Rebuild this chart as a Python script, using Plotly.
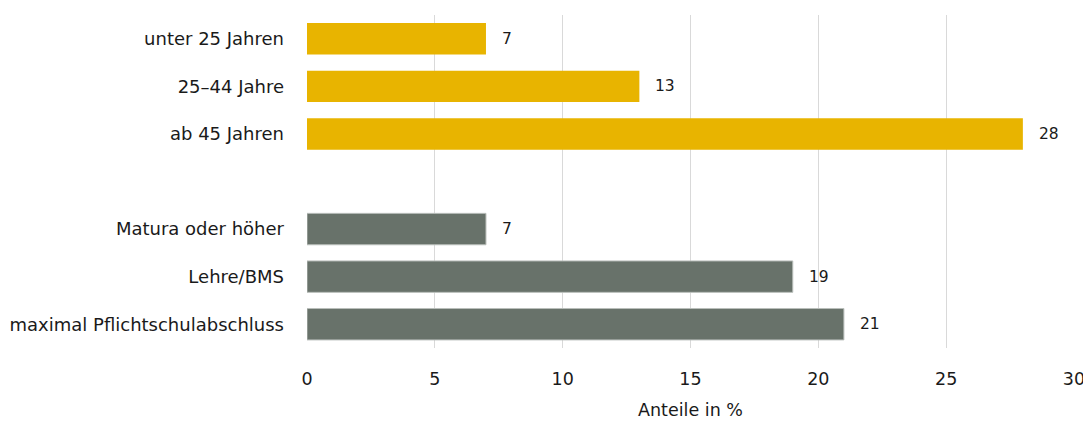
import plotly.graph_objects as go

# categories top to bottom, " " is the spacer row between the two groups
age_labels = ["unter 25 Jahren", "25–44 Jahre", "ab 45 Jahren"]
age_values = [7, 13, 28]
edu_labels = ["Matura oder höher", "Lehre/BMS", "maximal Pflichtschulabschluss"]
edu_values = [7, 19, 21]
spacer = [" "]
x_ticks = [0, 5, 10, 15, 20, 25, 30]

order = age_labels + spacer + edu_labels
font = "DejaVu Sans"

fig = go.Figure()
fig.add_trace(go.Bar(
    y=age_labels, x=age_values, orientation="h",
    marker=dict(color="#E8B400", line=dict(width=0)),
    width=0.66, hoverinfo="skip", showlegend=False
))
fig.add_trace(go.Bar(
    y=edu_labels, x=edu_values, orientation="h",
    marker=dict(color="#68726A", line=dict(width=1, color="#B9BEBA")),
    width=0.66, hoverinfo="skip", showlegend=False
))

# value labels right of each bar
for lab, val in zip(age_labels + edu_labels, age_values + edu_values):
    fig.add_annotation(x=val, y=lab, text=str(val), showarrow=False,
                       xanchor="left", xshift=14,
                       font=dict(family=font, size=15.5, color="#1a1a1a"))

# the page body has an 8px margin, so the figure is a bit smaller than the window
fig.update_layout(
    width=1083, height=413,
    margin=dict(l=299, r=17, t=7, b=73),
    plot_bgcolor="white", paper_bgcolor="white",
    font=dict(family=font, size=17.5, color="#1a1a1a"),
    xaxis=dict(
        range=[0, 30], tickvals=x_ticks, showgrid=True, gridcolor="#D9D9D9",
        gridwidth=1, zeroline=False, showline=False, ticks="",
        ticklabelstandoff=18, tickfont=dict(size=17.5), automargin=False,
        title=dict(text="Anteile in %", font=dict(size=17.5), standoff=16),
    ),
    yaxis=dict(
        type="category", categoryorder="array", categoryarray=order,
        range=[len(order) - 0.5, -0.5], showgrid=False, zeroline=False,
        ticks="", ticklabelstandoff=22, tickfont=dict(size=18),
        automargin=False,
    ),
)

fig.write_html("out.html")
